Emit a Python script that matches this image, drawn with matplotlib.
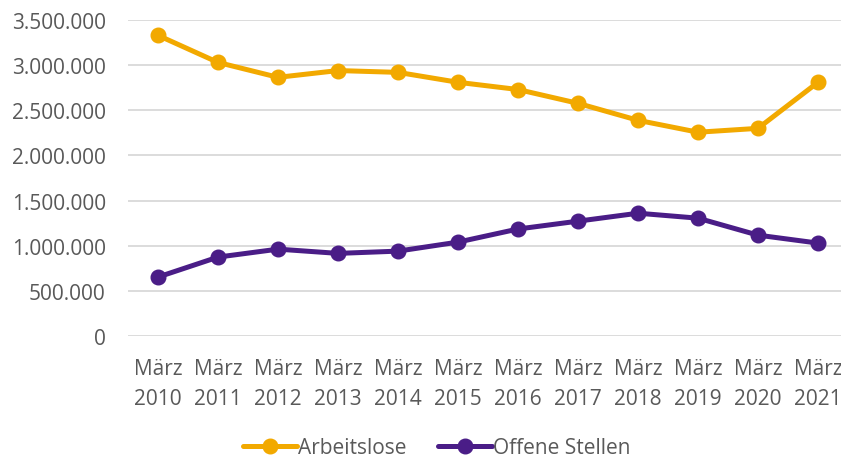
import matplotlib
matplotlib.use("Agg")
import matplotlib.pyplot as plt
from matplotlib.ticker import FuncFormatter

years = ["2010", "2011", "2012", "2013", "2014", "2015",
         "2016", "2017", "2018", "2019", "2020", "2021"]
arbeitslose = [3330000, 3030000, 2865000, 2940000, 2920000, 2810000,
               2730000, 2577000, 2389000, 2257000, 2300000, 2810000]
offene_stellen = [653000, 874000, 962000, 915000, 940000, 1040000,
                  1185000, 1272000, 1360000, 1305000, 1117000, 1029000]

plt.rcParams['font.family'] = ['Open Sans', 'DejaVu Sans']
grey = "#595959"

fig = plt.figure(figsize=(8.41, 4.6), dpi=100)
ax = fig.add_axes([128 / 841, 1 - 337 / 460, 720 / 841, 316 / 460])

x = list(range(len(years)))
ax.plot(x, arbeitslose, color="#F2A900", lw=3.6, marker="o", ms=10.5,
        solid_capstyle="round", label="Arbeitslose")
ax.plot(x, offene_stellen, color="#4A1D87", lw=3.6, marker="o", ms=10.5,
        solid_capstyle="round", label="Offene Stellen")

ax.set_xlim(-0.5, len(years) - 0.5)
ax.set_ylim(0, 3500000)
ax.set_yticks(range(0, 3500001, 500000))
ax.yaxis.set_major_formatter(FuncFormatter(lambda v, p: f"{int(v):,}".replace(",", ".")))
ax.set_xticks(x)
ax.set_xticklabels([f"März\n{y}" for y in years], linespacing=1.55)

ax.grid(axis="y", color="#d9d9d9", lw=1.3)
ax.set_axisbelow(True)
for s in ax.spines.values():
    s.set_visible(False)
ax.tick_params(axis="both", length=0, labelsize=15, colors=grey)
ax.tick_params(axis="y", pad=16)
ax.tick_params(axis="x", pad=16)

leg = fig.legend(loc="center", bbox_to_anchor=(437 / 841, 1 - 449 / 460), ncol=2,
                 frameon=False, fontsize=15, handlelength=2.6,
                 handletextpad=0.05, columnspacing=1.5)
for t in leg.get_texts():
    t.set_color(grey)

fig.savefig("out.png", dpi=100)
